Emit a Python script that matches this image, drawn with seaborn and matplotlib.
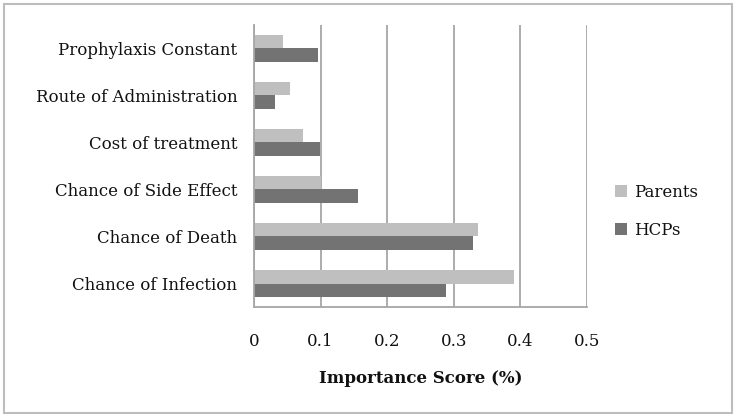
import matplotlib
matplotlib.use("Agg")
import matplotlib.pyplot as plt
import seaborn as sns
import pandas as pd
from matplotlib.patches import Rectangle

categories = ["Prophylaxis Constant", "Route of Administration", "Cost of treatment",
              "Chance of Side Effect", "Chance of Death", "Chance of Infection"]
parents = [0.044, 0.054, 0.073, 0.101, 0.336, 0.391]
hcps = [0.096, 0.032, 0.099, 0.156, 0.329, 0.288]
series = ["Parents", "HCPs"]
xticks = [0, 0.1, 0.2, 0.3, 0.4, 0.5]

df = pd.DataFrame({
    "Attribute": categories * 2,
    "Score": parents + hcps,
    "Group": [series[0]] * len(categories) + [series[1]] * len(categories),
})

sns.set_theme(style="white")
plt.rcParams["font.family"] = ["DejaVu Serif", "DejaVu Sans"]

fig = plt.figure(figsize=(7.38, 4.19), dpi=100)
ax = fig.add_axes([254/738, 1-307/419, (587-254)/738, (307-25)/419])

sns.barplot(data=df, y="Attribute", x="Score", hue="Group", order=categories,
            hue_order=series, palette=["#bfbfbf", "#737373"], width=0.56,
            saturation=1, ax=ax, orient="h", legend=True, linewidth=0)

ax.set_xlim(0, 0.5)
ax.set_ylim(len(categories) - 0.5, -0.5)
ax.set_xticks(xticks)
ax.set_xticklabels([f"{t:g}" for t in xticks], fontsize=12, color="#111111")
ax.set_yticks(range(len(categories)))
ax.set_yticklabels(categories, fontsize=12, color="#111111")
ax.set_ylabel("")
ax.set_xlabel("Importance Score (%)", fontsize=12, fontweight="bold", labelpad=14, color="#111111")

ax.grid(axis="x", color="#a6a6a6", linewidth=1.3)
ax.set_axisbelow(True)
for s in ["top", "right"]:
    ax.spines[s].set_visible(False)
for s in ["left", "bottom"]:
    ax.spines[s].set_color("#a6a6a6")
    ax.spines[s].set_linewidth(1.3)

# tick marks: y ticks at category boundaries, x ticks at values
ax.tick_params(axis="y", which="major", length=0, pad=12)
ax.set_yticks([i - 0.5 for i in range(len(categories) + 1)], minor=True)
ax.tick_params(axis="y", which="minor", length=5, color="#a6a6a6", width=1.3, direction="out")
ax.tick_params(axis="x", which="major", length=5, color="#a6a6a6", width=1.3, direction="out", pad=14)

leg = ax.legend(loc="center left", bbox_to_anchor=(1.04, 0.34), frameon=False,
                fontsize=12, handlelength=0.7, handleheight=0.7, labelspacing=1.25,
                handletextpad=0.4)
for t in leg.get_texts():
    t.set_color("#111111")

fig.patches.append(Rectangle((4/738, 1-413/419), (732-4)/738, (413-4)/419,
                             transform=fig.transFigure, fill=False,
                             edgecolor="#bdbdbd", linewidth=1.5))

fig.savefig("out.png", dpi=100)
